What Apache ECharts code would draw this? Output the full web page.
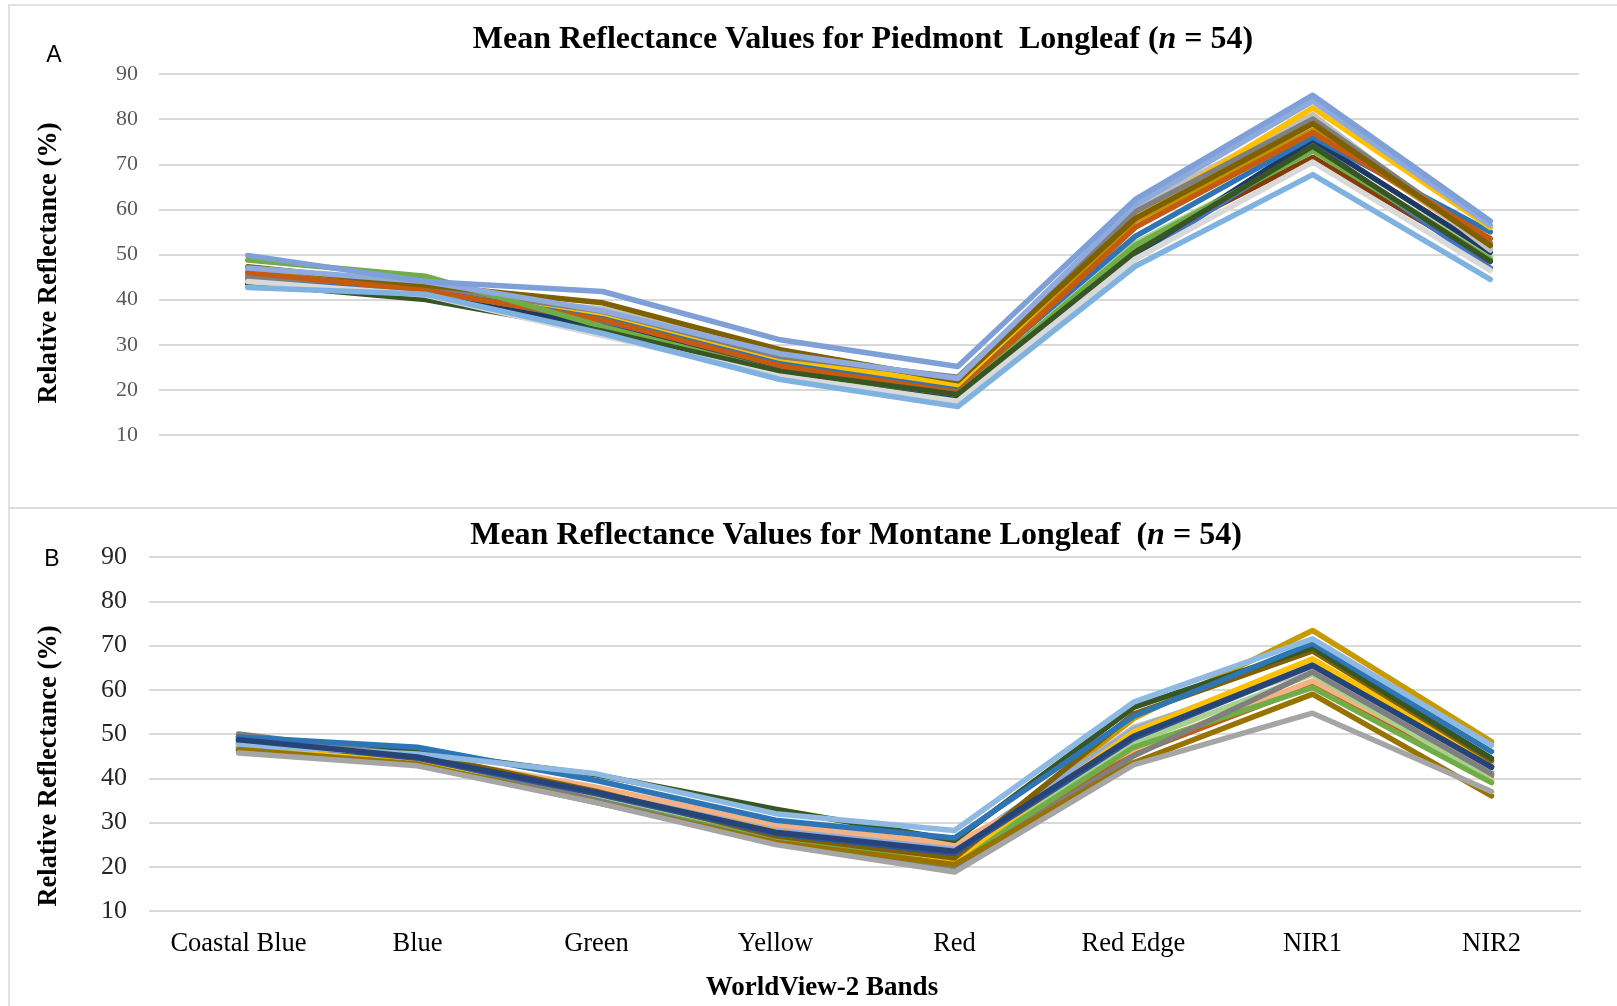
<!DOCTYPE html>
<html>
<head>
<meta charset="utf-8">
<script src="https://cdn.jsdelivr.net/npm/echarts@6/dist/echarts.min.js"></script>
<style>
html,body{margin:0;padding:0;background:#fff;}
#chart{width:1617px;height:1006px;}
</style>
</head>
<body>
<div id="chart"></div>
<script>
// ---------- DATA ----------
const bands = ['Coastal Blue', 'Blue', 'Green', 'Yellow', 'Red', 'Red Edge', 'NIR1', 'NIR2'];
const yTicks = [10, 20, 30, 40, 50, 60, 70, 80, 90];

const titleA = 'Mean Reflectance Values for Piedmont  Longleaf';
const titleB = 'Mean Reflectance Values for Montane Longleaf ';
const sampleN = 54;
const yName = 'Relative Reflectance (%)';
const xName = 'WorldView-2 Bands';

// Piedmont Longleaf (panel A) – estimated mean reflectance per band
const p01 = [45.0, 42.0, 34.5, 25.0, 19.2, 51.5, 71.5, 48.5];
const p02 = [45.5, 42.5, 36.0, 26.0, 20.0, 56.5, 78.5, 51.5];
const p03 = [46.0, 43.0, 36.5, 26.5, 20.5, 57.5, 77.5, 52.5];
const p04 = [44.5, 41.8, 34.5, 24.8, 18.5, 49.0, 74.5, 47.0];
const p05 = [45.5, 41.5, 33.2, 23.5, 18.5, 52.5, 73.0, 49.5];
const p06 = [44.0, 41.0, 34.0, 25.0, 18.0, 50.0, 75.5, 50.5];
const p07 = [44.5, 41.5, 38.0, 28.0, 21.5, 60.5, 81.0, 51.0];
const p08 = [44.2, 42.5, 36.0, 26.0, 20.5, 54.0, 76.0, 55.0];
const p09 = [46.8, 43.3, 37.0, 27.0, 21.2, 58.5, 82.5, 56.0];
const p10 = [45.0, 43.0, 37.4, 27.4, 22.8, 59.5, 80.0, 52.5];
const p11 = [46.0, 42.0, 35.5, 25.3, 19.5, 56.0, 77.0, 53.5];
const p12 = [47.3, 43.2, 39.3, 28.9, 22.0, 58.0, 79.0, 52.0];
const p13 = [48.8, 45.2, 34.0, 24.0, 19.0, 52.0, 73.0, 49.0];
const p14 = [43.5, 40.0, 33.0, 24.1, 19.0, 50.5, 74.0, 48.5];
const p15 = [44.0, 41.0, 32.0, 23.0, 17.5, 49.0, 70.5, 46.5];
const p16 = [42.7, 41.2, 32.5, 22.3, 16.3, 47.4, 67.7, 44.5];
const p17 = [47.0, 44.0, 37.5, 28.0, 22.5, 61.0, 84.0, 56.5];
const p18 = [49.8, 44.0, 41.8, 31.1, 25.2, 62.2, 85.3, 57.4];
const piedmont = [p01, p02, p03, p04, p05, p06, p07, p08, p09, p10, p11, p12, p13, p14, p15, p16, p17, p18];

// Montane Longleaf (panel B)
const m01 = [48.0, 44.5, 36.0, 27.0, 21.5, 53.5, 73.4, 48.3];
const m02 = [47.0, 44.0, 37.0, 28.5, 22.5, 51.5, 64.5, 41.5];
const m03 = [47.0, 44.0, 35.5, 26.0, 21.0, 45.5, 61.0, 40.5];
const m04 = [48.0, 45.0, 37.5, 29.0, 24.0, 51.0, 66.0, 43.0];
const m05 = [47.5, 45.0, 38.0, 29.5, 25.2, 46.5, 62.0, 41.0];
const m06 = [46.5, 43.5, 35.5, 27.0, 21.0, 48.0, 63.5, 39.5];
const m07 = [46.3, 43.0, 35.0, 26.0, 21.0, 47.0, 60.5, 39.0];
const m08 = [48.0, 44.2, 36.5, 28.0, 21.5, 50.5, 67.0, 43.5];
const m09 = [49.0, 45.5, 37.0, 27.0, 22.0, 54.5, 68.8, 44.0];
const m10 = [49.5, 46.0, 40.8, 33.0, 26.0, 56.0, 69.5, 44.5];
const m11 = [50.0, 45.0, 35.0, 25.5, 20.0, 45.0, 64.0, 41.0];
const m12 = [48.5, 44.5, 36.5, 27.5, 23.0, 49.0, 65.5, 42.5];
const m13 = [49.3, 47.0, 39.5, 30.5, 26.5, 54.0, 70.5, 46.0];
const m14 = [47.5, 45.5, 41.0, 32.0, 28.2, 57.2, 71.5, 47.5];
const m15 = [46.5, 43.2, 34.5, 25.5, 20.5, 43.5, 59.0, 36.0];
const m16 = [45.7, 42.8, 34.5, 25.0, 18.8, 43.0, 54.7, 37.0];
const m17 = [48.7, 44.8, 36.8, 27.8, 23.5, 49.5, 65.5, 42.5];
const montane = [m01, m02, m03, m04, m05, m06, m07, m08, m09, m10, m11, m12, m13, m14, m15, m16, m17];

// ---------- STYLES ----------
const piedmontColors = ['#843C0C', '#F4B183', '#BF9000', '#4472C4', '#A9D18E', '#1F3864', '#BFBFBF', '#2E75B6', '#FFC000',
  '#7F7F7F', '#C55A11', '#7F6000', '#70AD47', '#375623', '#D9D9D9', '#7FB2E0', '#8FAADC', '#7F9FD8'];
const montaneColors = ['#C99A00', '#BFBFBF', '#C55A11', '#8FAADC', '#F4B183', '#A9D18E', '#70AD47', '#FFC000', '#806000', '#375623',
  '#7F7F7F', '#2F5597', '#2E75B6', '#8DB9E2', '#997300', '#A5A5A5', '#264478'];

const serif = '"Liberation Serif", "Times New Roman", serif';
const sans = '"Liberation Sans", Arial, sans-serif';

function lines(arr, colors, idx) {
  return arr.map((d, i) => ({
    type: 'line',
    xAxisIndex: idx,
    yAxisIndex: idx,
    data: d,
    symbol: 'none',
    silent: true,
    z: 2 + i * 0.01,
    lineStyle: { color: colors[i], width: 5.5, cap: 'round', join: 'round' }
  }));
}

const chart = echarts.init(document.getElementById('chart'), null, { renderer: 'canvas' });

const titleStyle = {
  fontFamily: serif, fontWeight: 'bold', fontSize: 32, color: '#000',
  rich: { i: { fontFamily: serif, fontWeight: 'bold', fontStyle: 'italic', fontSize: 32, color: '#000' },
          b: { fontFamily: serif, fontWeight: 'bold', fontSize: 32, color: '#000' } }
};

const option = {
  animation: false,
  backgroundColor: '#fff',
  title: [
    { text: '{b|' + titleA + ' (}{i|n}{b| = ' + sampleN + ')}', left: 863, top: 24, textAlign: 'center', padding: 0, textStyle: titleStyle },
    { text: '{b|' + titleB + ' (}{i|n}{b| = ' + sampleN + ')}', left: 856, top: 520, textAlign: 'center', padding: 0, textStyle: titleStyle }
  ],
  graphic: [
    { type: 'rect', shape: { x: 9, y: 5, width: 1640, height: 503 }, style: { fill: 'none', stroke: '#D9D9D9', lineWidth: 1.5 }, silent: true, z: 0 },
    { type: 'rect', shape: { x: 9, y: 508, width: 1640, height: 520 }, style: { fill: 'none', stroke: '#D9D9D9', lineWidth: 1.5 }, silent: true, z: 0 },
    { type: 'text', x: 54, y: 56, style: { text: 'A', font: '23px ' + sans, fill: '#000', textAlign: 'center', textVerticalAlign: 'middle' } },
    { type: 'text', x: 52, y: 560, style: { text: 'B', font: '23px ' + sans, fill: '#000', textAlign: 'center', textVerticalAlign: 'middle' } },
    { type: 'text', x: 49, y: 263, rotation: Math.PI / 2,
      style: { text: yName, font: 'bold 26.5px ' + serif, fill: '#000', textAlign: 'center', textVerticalAlign: 'middle' } },
    { type: 'text', x: 49, y: 766, rotation: Math.PI / 2,
      style: { text: yName, font: 'bold 26.5px ' + serif, fill: '#000', textAlign: 'center', textVerticalAlign: 'middle' } },
    { type: 'text', x: 822, y: 988,
      style: { text: xName, font: 'bold 27px ' + serif, fill: '#000', textAlign: 'center', textVerticalAlign: 'middle' } }
  ],
  grid: [
    { left: 159, top: 74, width: 1420, height: 361 },
    { left: 149, top: 557, width: 1432, height: 354 }
  ],
  xAxis: [
    { type: 'category', gridIndex: 0, data: bands, boundaryGap: true,
      axisLine: { show: false }, axisTick: { show: false }, axisLabel: { show: false } },
    { type: 'category', gridIndex: 1, data: bands, boundaryGap: true,
      axisLine: { show: false }, axisTick: { show: false },
      axisLabel: { interval: 0, hideOverlap: false, fontFamily: serif, fontSize: 26.5, color: '#000', margin: 20 } }
  ],
  yAxis: [
    { type: 'value', gridIndex: 0, min: yTicks[0], max: yTicks[yTicks.length - 1], interval: 10,
      axisLine: { show: false }, axisTick: { show: false },
      axisLabel: { fontFamily: serif, fontSize: 22, color: '#595959', margin: 21 },
      splitLine: { lineStyle: { color: '#D9D9D9', width: 2 } } },
    { type: 'value', gridIndex: 1, min: yTicks[0], max: yTicks[yTicks.length - 1], interval: 10,
      axisLine: { show: false }, axisTick: { show: false },
      axisLabel: { fontFamily: serif, fontSize: 26, color: '#262626', margin: 22 },
      splitLine: { lineStyle: { color: '#D9D9D9', width: 2 } } }
  ],
  series: lines(piedmont, piedmontColors, 0).concat(lines(montane, montaneColors, 1))
};
chart.setOption(option);
</script>
</body>
</html>
